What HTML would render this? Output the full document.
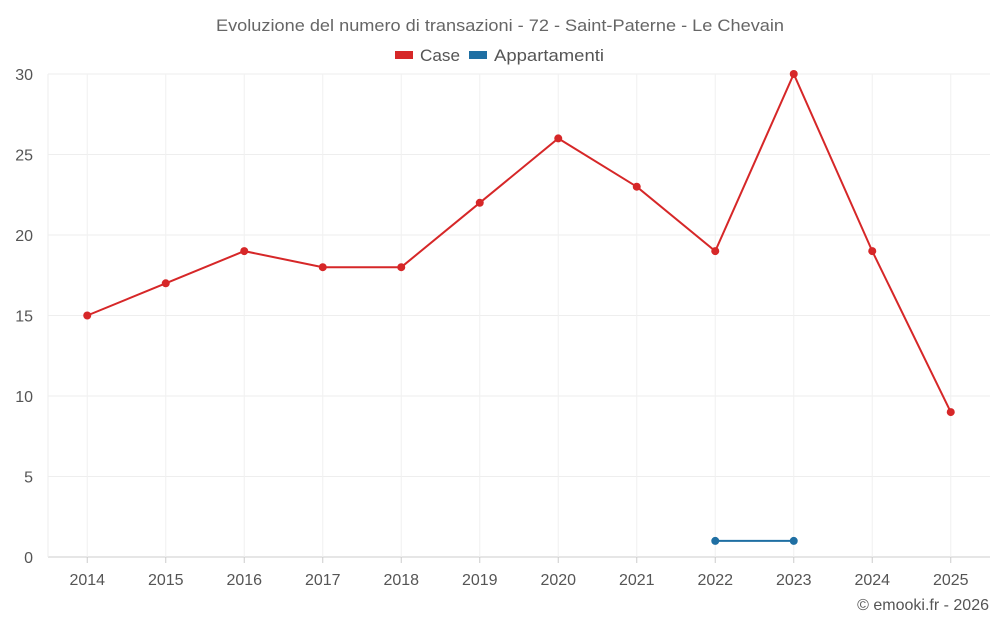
<!DOCTYPE html>
<html><head><meta charset="utf-8"><style>
body{margin:0;background:#fff;font-family:"Liberation Sans",sans-serif;}
svg text{font-family:"Liberation Sans",sans-serif;}
</style></head><body>
<svg id="chart" width="1000" height="625">
<text x="216" y="31" textLength="568" lengthAdjust="spacingAndGlyphs" font-size="16.5" fill="#666">Evoluzione del numero di transazioni - 72 - Saint-Paterne - Le Chevain</text>
<g><rect x="395" y="51" width="18" height="8" fill="#d62728"/><text x="420" y="61" textLength="40" lengthAdjust="spacingAndGlyphs" font-size="16.5" fill="#555">Case</text></g>
<g><rect x="469" y="51" width="18" height="8" fill="#1f6fa3"/><text x="494" y="61" textLength="110" lengthAdjust="spacingAndGlyphs" font-size="16.5" fill="#555">Appartamenti</text></g>
<g id="grid"></g><g id="axes"></g><g id="series"></g>
<text x="989" y="610" text-anchor="end" font-size="16" fill="#555">© emooki.fr - 2026</text>
</svg>
<script>
const years=["2014","2015","2016","2017","2018","2019","2020","2021","2022","2023","2024","2025"];
const caseValues=[15,17,19,18,18,22,26,23,19,30,19,9];
const appValues=[null,null,null,null,null,null,null,null,1,1,null,null];
const yTicks=[0,5,10,15,20,25,30];
const L=48,R=990,T=74,B=557,yMax=30;
const bw=(R-L)/years.length;
const xs=i=>L+bw*(i+0.5);
const ys=v=>B-(v/yMax)*(B-T);
const NS="http://www.w3.org/2000/svg";
function mk(t,a,p){const e=document.createElementNS(NS,t);for(const k in a)e.setAttribute(k,a[k]);p.appendChild(e);return e;}
const grid=document.getElementById('grid'),axes=document.getElementById('axes'),ser=document.getElementById('series');
yTicks.forEach(v=>{
 const l=mk('line',{x1:L,x2:R,y1:ys(v),y2:ys(v),stroke:v===0?'#ccc':'#eee'},grid);
 
 
 const t=mk('text',{x:33,y:ys(v)+6,'text-anchor':'end','font-size':16,fill:'#555'},axes);t.textContent=v;
 
 
});
years.forEach((y,i)=>{
 const l=mk('line',{x1:xs(i),x2:xs(i),y1:T,y2:B,stroke:'#f0f0f0'},grid);
 
 
 const tk=mk('line',{x1:xs(i),x2:xs(i),y1:B,y2:B+6,stroke:'#ccc'},axes);
 
 
 const t=mk('text',{x:xs(i),y:585,'text-anchor':'middle','font-size':16,fill:'#555'},axes);t.textContent=y;
 
 
});
mk('line',{x1:L,x2:L,y1:T,y2:B,stroke:'#eee'},grid);
function draw(vals,color,name){
 let d='',pen=false;
 vals.forEach((v,i)=>{if(v==null){pen=false;return;}d+=(pen?'L':'M')+xs(i)+' '+ys(v)+' ';pen=true;});
 const p=mk('path',{d:d,fill:'none',stroke:color,'stroke-width':2},ser);
 
 
 vals.forEach((v,i)=>{if(v==null)return;
  const c=mk('circle',{cx:xs(i),cy:ys(v),r:4,fill:color},ser);
  
  
 });
}
draw(caseValues,'#d62728','case');
draw(appValues,'#1f6fa3','appartamenti');
</script>
</body></html>
